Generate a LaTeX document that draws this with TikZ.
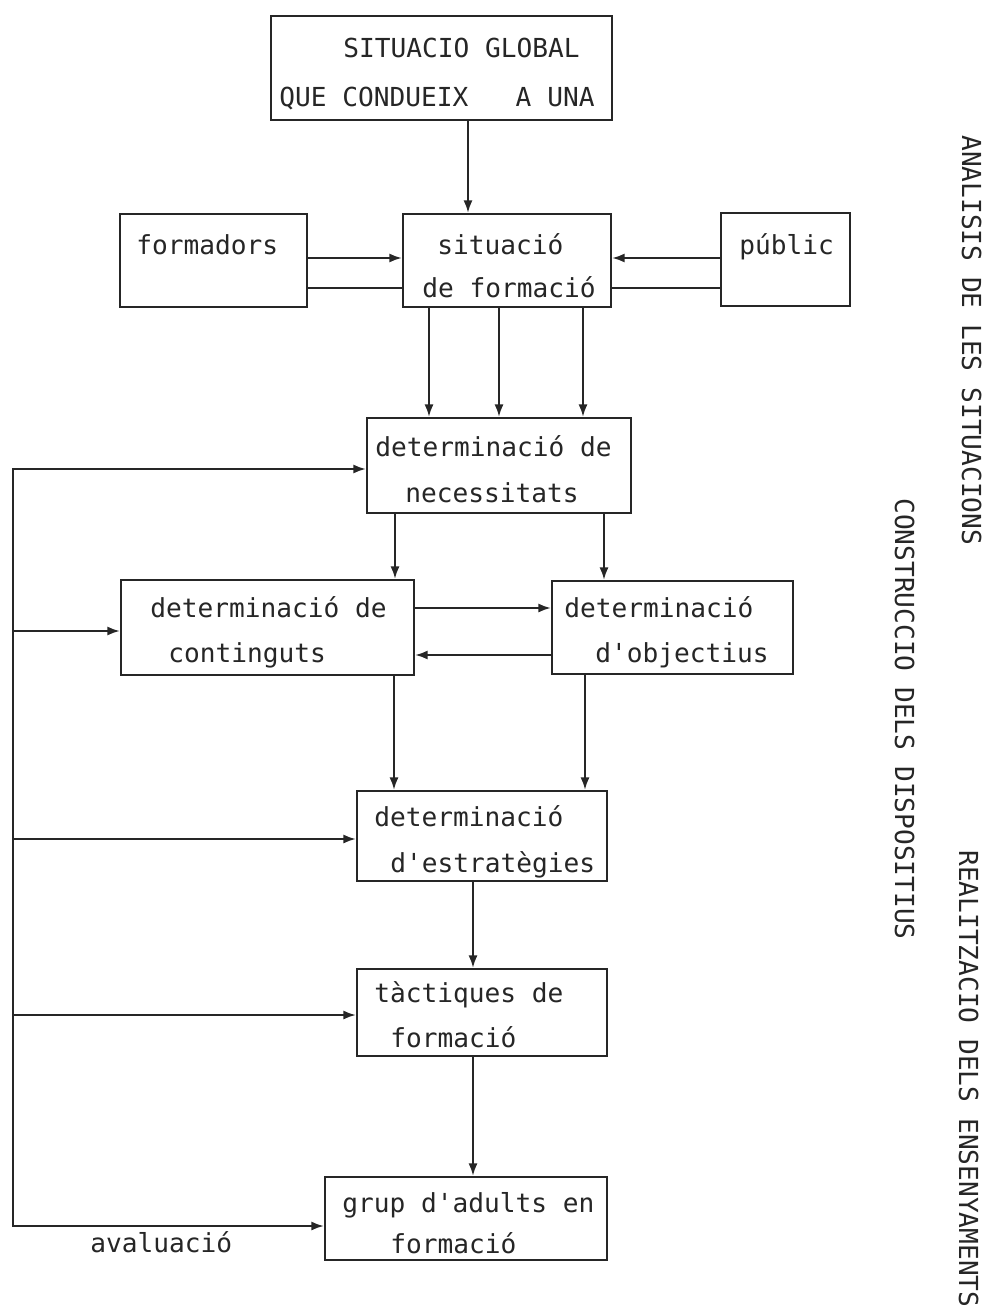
\documentclass[tikz,border=0pt]{standalone}
\usepackage{fontspec}
\newfontfamily\monofont{DejaVu Sans Mono}
\usetikzlibrary{arrows.meta,fit}
\begin{document}
\begin{tikzpicture}[x=0.02cm,y=-0.02cm,
  ink/.style={draw=black!85, line width=1.2pt},
  box/.style={ink, rectangle, inner sep=0pt},
  arr/.style={ink, -{Latex[length=2.5mm,width=1.8mm]}},
  link/.style={ink},
  txt/.style={anchor=base west, inner sep=0pt,
    font=\monofont\fontsize{14.9}{18}\selectfont, text=black!85},
  side/.style={txt, rotate=-90}]
\useasboundingbox[fill=white] (0,0) rectangle (987,1311);

% boxes
\node[box, fit={(271,16) (612,120)}]   (top)  {};
\node[box, fit={(120,214) (307,307)}]  (form) {};
\node[box, fit={(403,214) (611,307)}]  (sit)  {};
\node[box, fit={(721,213) (850,306)}]  (pub)  {};
\node[box, fit={(367,418) (631,513)}]  (nec)  {};
\node[box, fit={(121,580) (414,675)}]  (cont) {};
\node[box, fit={(552,581) (793,674)}]  (obj)  {};
\node[box, fit={(357,791) (607,881)}]  (estr) {};
\node[box, fit={(357,969) (607,1056)}] (tact) {};
\node[box, fit={(325,1177) (607,1260)}] (grup) {};

% box texts
\node[txt] (top1) at (343,57.5)  {SITUACIO GLOBAL};
\node[txt] (top2) at (279,106.5) {QUE CONDUEIX\ \ \ A UNA};
\node[txt] (form1) at (136,254.5) {formadors};
\node[txt] (sit1) at (437,254.5) {situació};
\node[txt] (sit2) at (422,297.5) {de formació};
\node[txt] (pub1) at (739,254.5) {públic};
\node[txt] (nec1) at (375,456.5) {determinació de};
\node[txt] (nec2) at (405,502.5) {necessitats};
\node[txt] (cont1) at (150,617.5) {determinació de};
\node[txt] (cont2) at (168,662.5) {continguts};
\node[txt] (obj1) at (564,617.5) {determinació};
\node[txt] (obj2) at (595,662.5) {d'objectius};
\node[txt] (estr1) at (374,826.5) {determinació};
\node[txt] (estr2) at (390,872.5) {d'estratègies};
\node[txt] (tact1) at (374,1002.5) {tàctiques de};
\node[txt] (tact2) at (390,1047.5) {formació};
\node[txt] (grup1) at (342,1212.5) {grup d'adults en};
\node[txt] (grup2) at (390,1253.5) {formació};
\node[txt] (aval) at (90,1252.5) {avaluació};

% phase titles along the right margin
\node[side] (ph1) at (962,135) {ANALISIS DE LES SITUACIONS};
\node[side] (ph2) at (895,498) {CONSTRUCCIO DELS DISPOSITIUS};
\node[side] (ph3) at (959,850) {REALITZACIO DELS ENSENYAMENTS};

% main flow
\draw[arr] (top.south -| 468,0) -- (sit.north -| 468,0);
\draw[arr]  (form.east |- 0,258) -- (sit.west |- 0,258);
\draw[link] (form.east |- 0,288) -- (sit.west |- 0,288);
\draw[arr]  (pub.west |- 0,258) -- (sit.east |- 0,258);
\draw[link] (pub.west |- 0,288) -- (sit.east |- 0,288);
\foreach \cx in {429,499,583}
  \draw[arr] (sit.south -| \cx,0) -- (nec.north -| \cx,0);
\draw[arr] (nec.south -| 395,0) -- (cont.north -| 395,0);
\draw[arr] (nec.south -| 604,0) -- (obj.north -| 604,0);
\draw[arr] (cont.east |- 0,608) -- (obj.west |- 0,608);
\draw[arr] (obj.west |- 0,655) -- (cont.east |- 0,655);
\draw[arr] (cont.south -| 394,0) -- (estr.north -| 394,0);
\draw[arr] (obj.south -| 585,0) -- (estr.north -| 585,0);
\draw[arr] (estr.south -| 473,0) -- (tact.north -| 473,0);
\draw[arr] (tact.south -| 473,0) -- (grup.north -| 473,0);

% evaluation feedback line
\coordinate (fb1) at (13,469);
\coordinate (fb2) at (13,631);
\coordinate (fb3) at (13,839);
\coordinate (fb4) at (13,1015);
\coordinate (fb5) at (13,1226);
\draw[link] (fb2) -- (fb4);
\draw[arr] (fb2) -- (fb1) -- (nec.west |- fb1);
\draw[arr] (fb4) -- (fb5) -- (grup.west |- fb5);
\draw[arr] (fb2) -- (cont.west |- fb2);
\draw[arr] (fb3) -- (estr.west |- fb3);
\draw[arr] (fb4) -- (tact.west |- fb4);
\end{tikzpicture}
\end{document}
